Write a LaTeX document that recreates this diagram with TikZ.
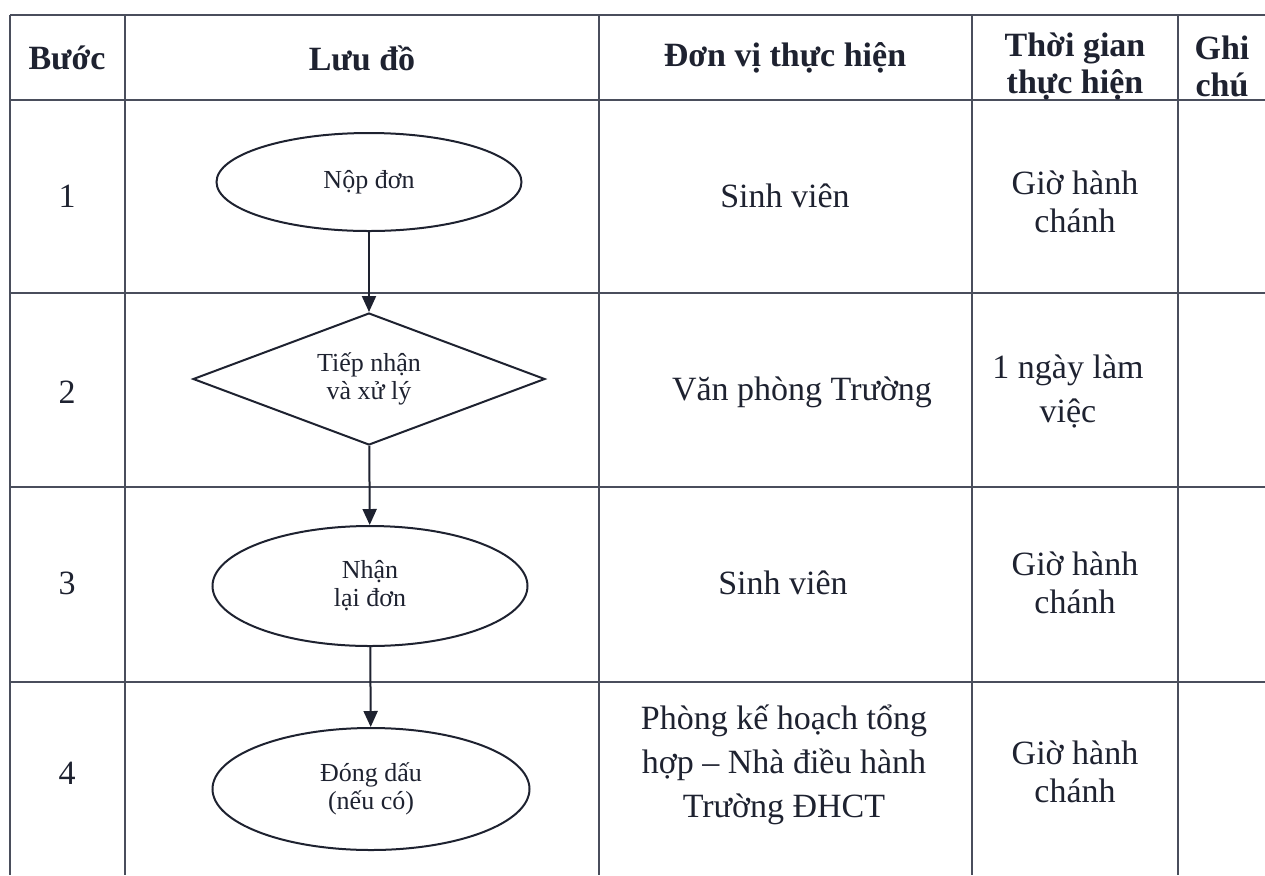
\documentclass[tikz,border=0pt]{standalone}
\usepackage{fontspec}
\setmainfont{Liberation Serif}
\usetikzlibrary{arrows.meta,shapes.geometric}
\definecolor{ink}{HTML}{1E2230}
\definecolor{rule}{HTML}{4A4E5C}

\begin{document}
\begin{tikzpicture}[x=0.5pt,y=-0.5pt,line width=1pt,color=ink,
  grid/.style={draw=rule,line width=0.9pt},
  head/.style={anchor=center,inner sep=0pt,align=center,font=\fontsize{17}{18.5}\selectfont\bfseries},
  cell/.style={anchor=center,inner sep=0pt,align=center,font=\fontsize{17}{19}\selectfont},
  tall/.style={cell,font=\fontsize{17}{22}\selectfont},
  oval/.style={draw,ellipse,inner sep=0pt,align=center,font=\fontsize{13}{14}\selectfont},
  choice/.style={draw,diamond,aspect=2.67,inner sep=0pt,align=center,font=\fontsize{13}{14}\selectfont},
  flow/.style={-{Triangle[length=8pt,width=7pt]}}]
\path[use as bounding box] (0,0) rectangle (1265,875);
% table rules
\foreach \y in {15,100,293,487,682}
  \draw[grid] (10,\y) -- (1265,\y);
\foreach \x in {10,125,599,972,1178}
  \draw[grid] (\x,15) -- (\x,875);
% header
\node[head] (hstep) at (67,58) {Bước};
\node[head] (hchart) at (362,58) {Lưu đồ};
\node[head] (hunit) at (785,58) {Đơn vị thực hiện};
\node[head] (htime) at (1075,67) {Thời gian\\thực hiện};
\node[head] (hnote) at (1222,66) {Ghi\\chú};
% step numbers
\node[cell] (n1) at (67,196) {1};
\node[cell] (n2) at (67,392) {2};
\node[cell] (n3) at (67,583) {3};
\node[cell] (n4) at (67,773) {4};
% flowchart
\node[oval,minimum width=152.5pt,minimum height=49pt] (s1) at (369,182) {Nộp đơn};
\node[choice,minimum width=176pt,minimum height=66pt] (s2) at (369,379) {Tiếp nhận\\và xử lý};
\node[oval,minimum width=157.5pt,minimum height=60pt] (s3) at (370,586) {Nhận\\lại đơn};
\node[oval,minimum width=158.5pt,minimum height=61pt] (s4) at (371,789) {Đóng dấu\\(nếu có)};
\draw[flow] (s1) -- (s2);
\draw[flow] (s2) -- (s3);
\draw[flow] (s3) -- (s4);
% units
\node[cell] (u1) at (785,196) {Sinh viên};
\node[cell] (u2) at (802,392) {Văn phòng Trường};
\node[cell] (u3) at (783,583) {Sinh viên};
\node[tall] (u4) at (784,765) {Phòng kế hoạch tổng\\hợp -- Nhà điều hành\\Trường ĐHCT};
% times
\node[cell] (t1) at (1075,202) {Giờ hành\\chánh};
\node[tall] (t2) at (1068,391) {1 ngày làm\\việc};
\node[cell] (t3) at (1075,583) {Giờ hành\\chánh};
\node[cell] (t4) at (1075,772) {Giờ hành\\chánh};
\end{tikzpicture}
\end{document}
